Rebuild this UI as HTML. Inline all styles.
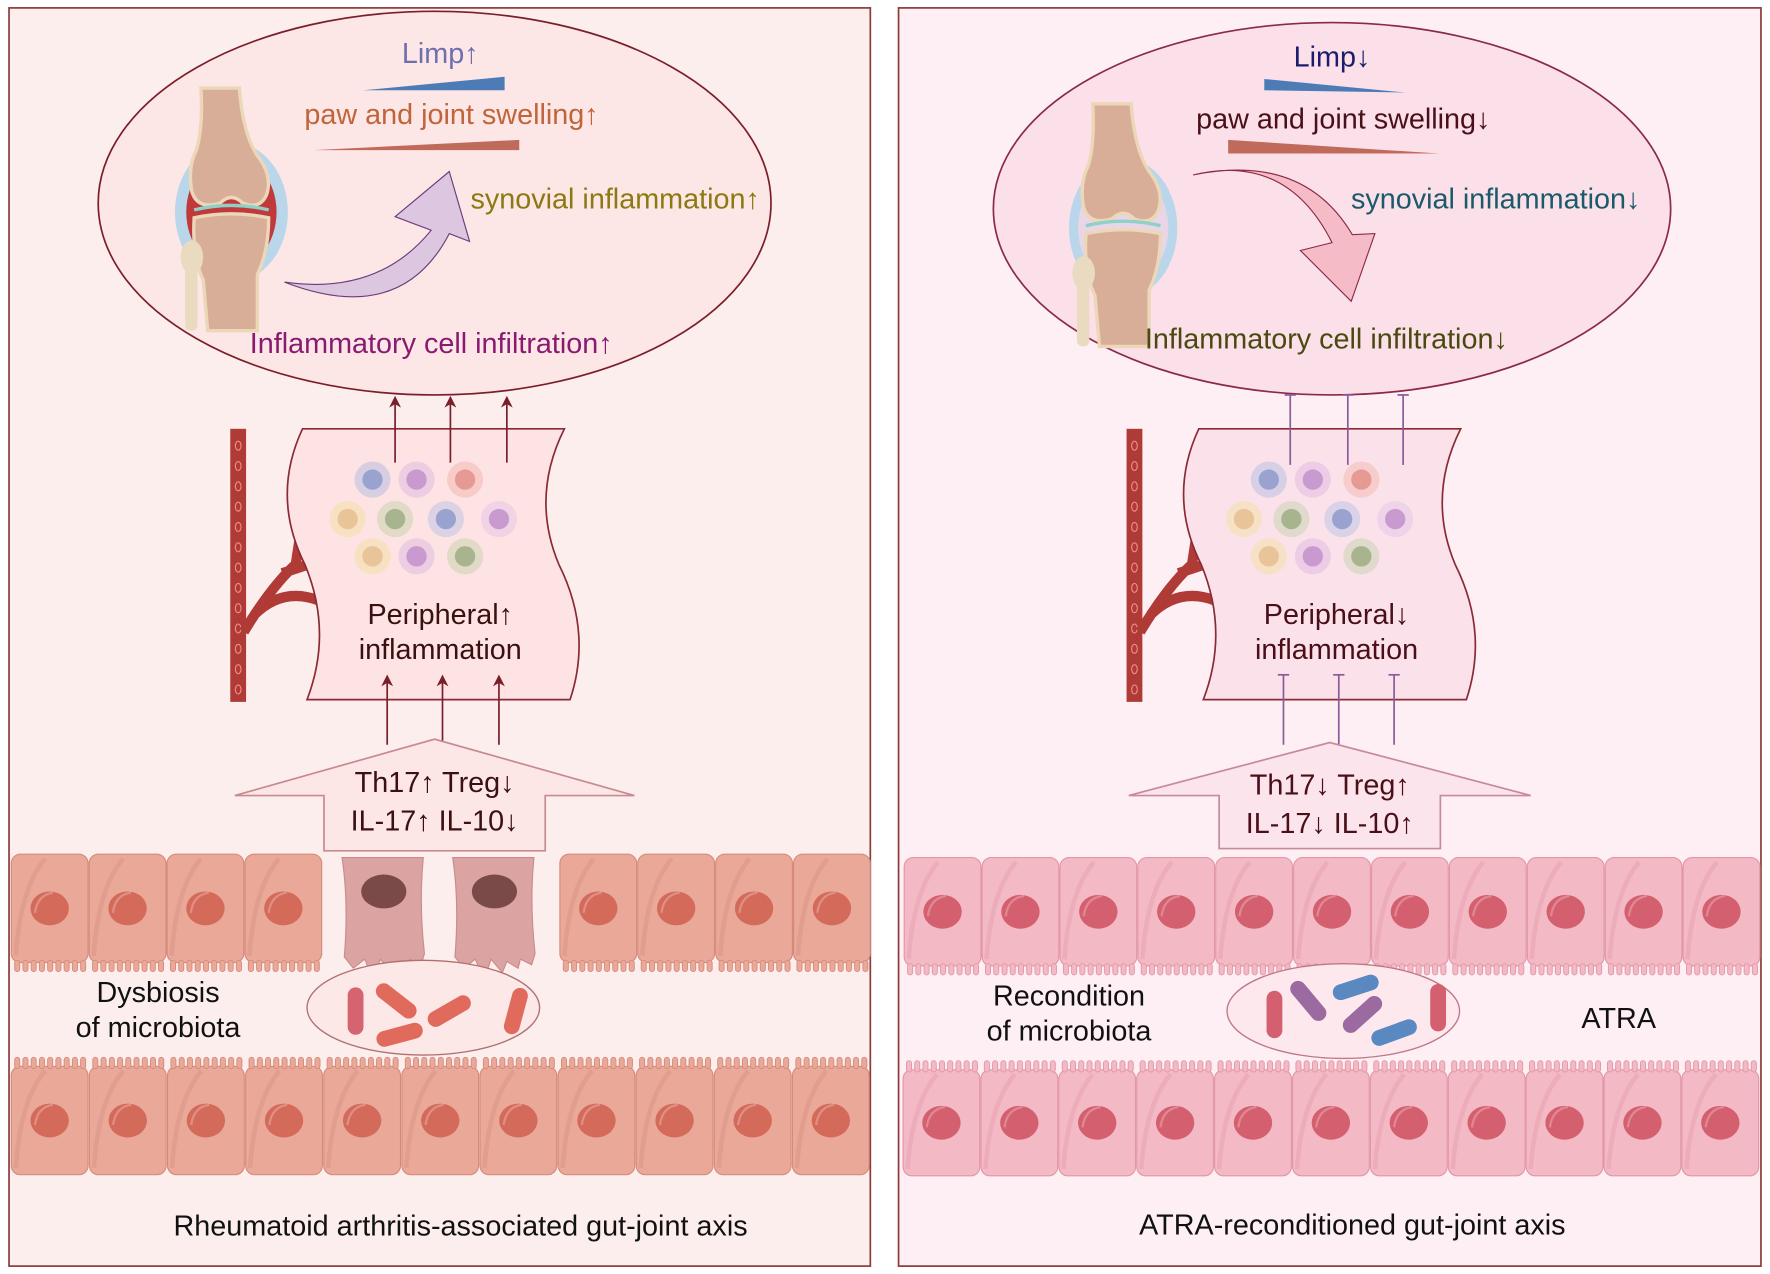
<!DOCTYPE html>
<html><head><meta charset="utf-8"><style>
html,body{margin:0;padding:0;background:#fff;}
svg{display:block;}
text{font-family:"Liberation Sans",sans-serif;}
</style></head><body>
<svg id="s" width="1770" height="1274" viewBox="0 0 1568 1129" preserveAspectRatio="none" xmlns="http://www.w3.org/2000/svg">
<defs>
<marker id="ar" viewBox="0 0 10 10" refX="5" refY="5" markerWidth="7" markerHeight="7" orient="auto"><path d="M0,0 L10,5 L0,10 L3,5z" fill="#7a1f2a"/></marker>
</defs>
<rect x="0" y="0" width="1568" height="1129" fill="#fff"/>
<rect x="8" y="7" width="763" height="1115" fill="#fdeeee" stroke="#8b3a3a" stroke-width="1.5"/>
<rect x="796" y="7" width="764" height="1115" fill="#fdeff3" stroke="#8b3a3a" stroke-width="1.5"/>
<g id="g"></g>
</svg>
<script>
const g=document.getElementById('g');let h='';
const FS=25.5;
function T(x,y,s,c){h+=`<text x="${x}" y="${y}" font-size="${FS}" fill="${c}" text-anchor="middle">${s}</text>`;}
function joint(x,y,inflamed){
  h+=`<ellipse cx="${x+45}" cy="${y+110}" rx="${inflamed?50:48}" ry="62" fill="#b9d6ea"/>`;
  h+=`<ellipse cx="${x+45}" cy="${y+110}" rx="40" ry="50" fill="${inflamed?'#c0393b':'#e8d5e6'}"/>`;
  h+=`<path d="M${x+18},${y} L${x+52},${y} Q${x+55},${y+40} ${x+68},${y+60} Q${x+82},${y+78} ${x+76},${y+95} Q${x+70},${y+108} ${x+55},${y+102} Q${x+45},${y+92} ${x+35},${y+102} Q${x+15},${y+108} ${x+10},${y+92} Q${x+6},${y+70} ${x+14},${y+55} Q${x+20},${y+35} ${x+18},${y}z" fill="#d9ae98" stroke="#ecd8b8" stroke-width="3"/>`;
  h+=`<path d="M${x+12},${y+115} Q${x+45},${y+108} ${x+78},${y+115} Q${x+78},${y+145} ${x+68},${y+165} L${x+68},${y+215} L${x+24},${y+215} L${x+20},${y+170} Q${x+10},${y+150} ${x+12},${y+115}z" fill="#d9ae98" stroke="#ecd8b8" stroke-width="3"/>`;
  h+=`<path d="M${x+12},${y+108} Q${x+45},${y+100} ${x+78},${y+108}" stroke="#8fd0c8" stroke-width="3" fill="none"/>`;
  h+=`<rect x="${x+4}" y="${y+150}" width="11" height="65" rx="5" fill="#eadbc0"/><ellipse cx="${x+10}" cy="${y+150}" rx="10" ry="15" fill="#eadbc0"/>`;
}
function cellsCluster(ox){
  const P=[[330,425,'#b8bfe0','#9aa3d0'],[369,425,'#e0bce0','#c99ad0'],[412,425,'#f3b9b2','#e69a93'],[308,460,'#f4e0a8','#e9c498'],[350,460,'#c9d3b0','#a8b48e'],[395,460,'#c0c6e4','#9aa3d0'],[442,460,'#e6c6e6','#c99ad0'],[330,493,'#f4e0a8','#e9c498'],[369,493,'#e0bce0','#c99ad0'],[412,493,'#c9d3b0','#a8b48e']];
  P.forEach(p=>{h+=`<circle cx="${p[0]+ox}" cy="${p[1]}" r="16" fill="${p[2]}" opacity="0.55"/><circle cx="${p[0]+ox}" cy="${p[1]}" r="9" fill="${p[3]}"/>`;});
}
function vessel(ox){
  h+=`<rect x="${204+ox}" y="380" width="14" height="242" fill="#b03a35"/>`;
  for(let y=395;y<615;y+=18)h+=`<ellipse cx="${211+ox}" cy="${y}" rx="2.5" ry="4" fill="none" stroke="#e89088" stroke-width="1"/>`;
  h+=`<path d="M${216+ox},560 Q${240+ox},520 ${262+ox},500 L${265+ox},480 M${250+ox},508 L${298+ox},492 M${225+ox},545 Q${250+ox},520 ${282+ox},532" stroke="#b03a35" stroke-width="9" fill="none" stroke-linecap="butt"/>`;
}
function tissue(ox,fill){
  h+=`<path d="M${268+ox},380 L${500+ox},380 Q${470+ox},440 ${495+ox},500 Q${525+ox},560 ${505+ox},620 L${272+ox},620 Q${295+ox},560 ${270+ox},500 Q${240+ox},440 ${268+ox},380z" fill="${fill}" stroke="#8b2a35" stroke-width="1.5"/>`;
}
function epi(x,y,w,hgt,fill,dark,nuc,top){
  h+=`<rect x="${x}" y="${y}" width="${w-2}" height="${hgt}" rx="8" fill="${fill}" stroke="${dark}" stroke-width="1"/>`;
  h+=`<path d="M${x+4},${y+hgt-6} Q${x+8},${y+30} ${x+30},${y+4}" stroke="${dark}" stroke-width="4" fill="none" opacity="0.35"/>`;
  const vy=top?y+hgt:y;
  for(let i=0;i<9;i++){const vx=x+3+i*7.3;h+=`<rect x="${vx}" y="${top?vy-2:vy-8}" width="4.5" height="10" rx="2.2" fill="${fill}" stroke="${dark}" stroke-width="0.8"/>`;}
  h+=`<ellipse cx="${x+w/2-1}" cy="${y+hgt/2}" rx="17" ry="15" fill="${nuc}"/><path d="M${x+w/2-14},${y+hgt/2+4} Q${x+w/2-12},${y+hgt/2-12} ${x+w/2+2},${y+hgt/2-14}" stroke="#fff" stroke-opacity="0.25" stroke-width="2" fill="none"/>`;
}
// ===== LEFT =====
h+=`<ellipse cx="385" cy="180" rx="298" ry="170" fill="#fde6e6" stroke="#7a1f2a" stroke-width="1.5"/>`;
joint(160,78,true);
T(390,56,'Limp↑','#6f6fb0');
h+=`<polygon points="322,80 447,68 447,80" fill="#4d7bb5"/>`;
T(400,110,'paw and joint swelling↑','#c0643a');
h+=`<polygon points="278,133 460,124 460,133" fill="#c06a5c"/>`;
h+=`<path d="M252,250 Q335,262 382,204 L350,192 L398,152 L416,214 L398,207 Q355,290 252,250z" fill="#dcc6e0" stroke="#6a3a7a" stroke-width="1"/>`;
T(545,185,'synovial inflammation↑','#8a7a10');
T(382,313,'Inflammatory cell infiltration↑','#8a1a70');
vessel(0);tissue(0,'#fde3e3');cellsCluster(0);
T(390,553,'Peripheral↑','#3a1010');T(390,584,'inflammation','#3a1010');
[350,399,449].forEach(x=>{h+=`<line x1="${x}" y1="410" x2="${x}" y2="356" stroke="#7a1f2a" stroke-width="1.5" marker-end="url(#ar)"/>`;});
[343,392,442].forEach(x=>{h+=`<line x1="${x}" y1="660" x2="${x}" y2="603" stroke="#7a1f2a" stroke-width="1.5" marker-end="url(#ar)"/>`;});
h+=`<polygon points="208,705 385,655 562,705 483,705 483,754 287,754 287,705" fill="#fde6e6" stroke="#c78a90" stroke-width="1.5"/>`;
T(385,702,'Th17↑  Treg↓','#3a1010');T(385,736,'IL-17↑  IL-10↓','#3a1010');
const LF='#e9a898',LD='#d58a7c',LN='#d46a5a';
[10,79,148,217,496,565,634,703].forEach(x=>epi(x,757,70,96,LF,LD,LN,true));
[303,401].forEach(x=>{h+=`<path d="M${x},760 L${x+72},760 Q${x+68},800 ${x+73},845 L${x+70},855 L${x+60},850 L${x+58},858 L${x+48},852 L${x+44},862 L${x+34},850 L${x+28},868 L${x+20},850 L${x+10},858 L${x+2},848 Q${x+6},800 ${x},760z" fill="#dca3a3" stroke="#c98b8b"/><ellipse cx="${x+37}" cy="790" rx="20" ry="15" fill="#7a4a48"/>`;});
for(let i=0;i<11;i++)epi(10+i*69.2,945,70,96,LF,LD,LN,false);
h+=`<ellipse cx="375" cy="893" rx="103" ry="42" fill="#fde8e8" stroke="#b07070" stroke-width="1.2"/>`;
h+=`<rect x="308" y="875" width="14" height="42" rx="7" fill="#d46470"/>`;
h+=`<rect x="330" y="880" width="42" height="14" rx="7" fill="#e06a5c" transform="rotate(38 351 887)"/>`;
h+=`<rect x="377" y="889" width="42" height="14" rx="7" fill="#e06a5c" transform="rotate(-30 398 896)"/>`;
h+=`<rect x="333" y="910" width="42" height="14" rx="7" fill="#e06a5c" transform="rotate(-15 354 917)"/>`;
h+=`<rect x="450" y="875" width="14" height="42" rx="7" fill="#e06a5c" transform="rotate(15 457 896)"/>`;
T(140,888,'Dysbiosis','#111');T(140,919,'of microbiota','#111');
T(408,1095,'Rheumatoid arthritis-associated gut-joint axis','#111');
// ===== RIGHT =====
const O=794;
h+=`<ellipse cx="1180" cy="185" rx="300" ry="165" fill="#fbe0ea" stroke="#8b2a45" stroke-width="1.5"/>`;
joint(950,92,false);
T(1180,59,'Limp↓','#1c1c6a');
h+=`<polygon points="1120,70 1120,80 1245,82" fill="#4d7bb5"/>`;
T(1190,114,'paw and joint swelling↓','#4a0f18');
h+=`<polygon points="1088,124 1088,136 1275,136" fill="#c06a5c"/>`;
h+=`<path d="M1057,155 Q1140,135 1180,215 L1152,222 L1197,267 L1218,207 L1198,208 Q1155,135 1057,155z" fill="#f5bcc8" stroke="#8b2a45" stroke-width="1"/>`;
T(1325,185,'synovial inflammation↓','#1a5a6a');
T(1175,309,'Inflammatory cell infiltration↓','#4a4a10');
vessel(O);tissue(O,'#fbe2ea');cellsCluster(O);
T(1184,553,'Peripheral↓','#4a0f18');T(1184,584,'inflammation','#4a0f18');
[1143,1194,1243].forEach(x=>{h+=`<line x1="${x}" y1="412" x2="${x}" y2="350" stroke="#8a5a9a" stroke-width="1.5"/><line x1="${x-5}" y1="350" x2="${x+5}" y2="350" stroke="#8a5a9a" stroke-width="1.5"/>`;});
[1137,1186,1235].forEach(x=>{h+=`<line x1="${x}" y1="660" x2="${x}" y2="598" stroke="#8a5a9a" stroke-width="1.5"/><line x1="${x-5}" y1="598" x2="${x+5}" y2="598" stroke="#8a5a9a" stroke-width="1.5"/>`;});
h+=`<polygon points="1000,705 1178,658 1356,705 1276,705 1276,752 1080,752 1080,705" fill="#fbe4ec" stroke="#c78a9a" stroke-width="1.5"/>`;
T(1178,704,'Th17↓ Treg↑','#4a0f18');T(1178,738,'IL-17↓  IL-10↑','#4a0f18');
const RF='#f3b9c4',RD='#e296a6',RN='#d4606f';
for(let i=0;i<11;i++)epi(801+i*69,760,70,96,RF,RD,RN,true);
for(let i=0;i<11;i++)epi(800+i*69,948,70,94,RF,RD,RN,false);
h+=`<ellipse cx="1190" cy="896" rx="103" ry="42" fill="#fde8ee" stroke="#c07888" stroke-width="1.2"/>`;
h+=`<rect x="1122" y="878" width="14" height="42" rx="7" fill="#d4606f"/>`;
h+=`<rect x="1138" y="880" width="42" height="14" rx="7" fill="#9a6aa0" transform="rotate(50 1159 887)"/>`;
h+=`<rect x="1180" y="868" width="42" height="14" rx="7" fill="#5a88c0" transform="rotate(-18 1201 875)"/>`;
h+=`<rect x="1186" y="892" width="42" height="14" rx="7" fill="#9a6aa0" transform="rotate(-42 1207 899)"/>`;
h+=`<rect x="1214" y="908" width="42" height="14" rx="7" fill="#5a88c0" transform="rotate(-20 1235 915)"/>`;
h+=`<rect x="1267" y="872" width="14" height="42" rx="7" fill="#d4606f"/>`;
T(947,891,'Recondition','#111');T(947,922,'of microbiota','#111');
T(1434,911,'ATRA','#111');
T(1198,1094,'ATRA-reconditioned gut-joint axis','#111');
g.innerHTML=h;
</script>
</body></html>
